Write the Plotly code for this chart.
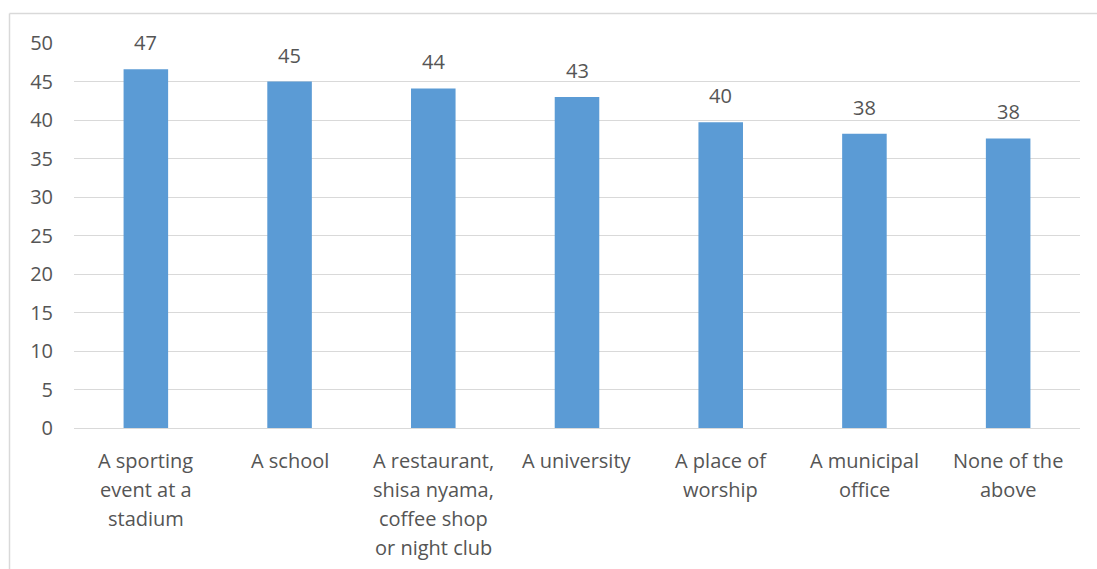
import plotly.graph_objects as go

categories = [
    "A sporting<br>event at a<br>stadium",
    "A school",
    "A restaurant,<br>shisa nyama,<br>coffee shop<br>or night club",
    "A university",
    "A place of<br>worship",
    "A municipal<br>office",
    "None of the<br>above",
]
values = [46.6, 45.0, 44.1, 43.0, 39.7, 38.2, 37.6]
y_ticks = [0, 5, 10, 15, 20, 25, 30, 35, 40, 45, 50]

FONT = "Open Sans"
FONT_SIZE = 20
TEXT_COLOR = "#555555"
GRID_COLOR = "#d9d9d9"
BAR_COLOR = "#5B9BD5"

fig = go.Figure(
    go.Bar(
        x=list(range(len(categories))),
        y=values,
        width=0.31,
        marker=dict(color=BAR_COLOR, line=dict(width=0)),
        hoverinfo="skip",
    )
)

annotations = []
# value labels above each bar (rounded from the bar value)
for i, v in enumerate(values):
    annotations.append(dict(
        x=i, y=v, xref="x", yref="y", text=f"{v:.0f}",
        showarrow=False, yanchor="bottom", yshift=11,
        font=dict(family=FONT, size=FONT_SIZE, color=TEXT_COLOR),
    ))
# category labels, one annotation per line for wider line spacing
for i, cat in enumerate(categories):
    for j, line in enumerate(cat.split("<br>")):
        annotations.append(dict(
            x=i, y=0, xref="x", yref="paper", text=line,
            showarrow=False, yanchor="middle", xanchor="center",
            yshift=-(32 + 29 * j),
            font=dict(family=FONT, size=FONT_SIZE, color=TEXT_COLOR),
        ))

fig.update_layout(
    width=1097, height=569,
    margin=dict(l=74, r=17, t=43, b=141),
    paper_bgcolor="white", plot_bgcolor="white",
    showlegend=False,
    annotations=annotations,
    shapes=[
        # outer chart frame (left and top edges)
        dict(type="line", xref="paper", yref="paper",
             x0=-64.5 / 1006, x1=-64.5 / 1006, y0=(428 - 13.5) / 385, y1=-141 / 385,
             line=dict(color=GRID_COLOR, width=1.5)),
        dict(type="line", xref="paper", yref="paper",
             x0=-64.5 / 1006, x1=1.1, y0=(428 - 13.5) / 385, y1=(428 - 13.5) / 385,
             line=dict(color=GRID_COLOR, width=1.5)),
    ],
    xaxis=dict(
        range=[-0.5, len(categories) - 0.5],
        showticklabels=False, showgrid=False, zeroline=False,
        showline=False, ticks="",
    ),
    yaxis=dict(
        range=[0, 50],
        tickvals=y_ticks,
        showgrid=True, gridcolor=GRID_COLOR, gridwidth=1.3,
        zeroline=True, zerolinecolor=GRID_COLOR, zerolinewidth=1.3,
        showline=False, ticks="",
        ticklabelstandoff=20,
        tickfont=dict(family=FONT, size=FONT_SIZE, color=TEXT_COLOR),
    ),
)

fig.write_html("out.html")
